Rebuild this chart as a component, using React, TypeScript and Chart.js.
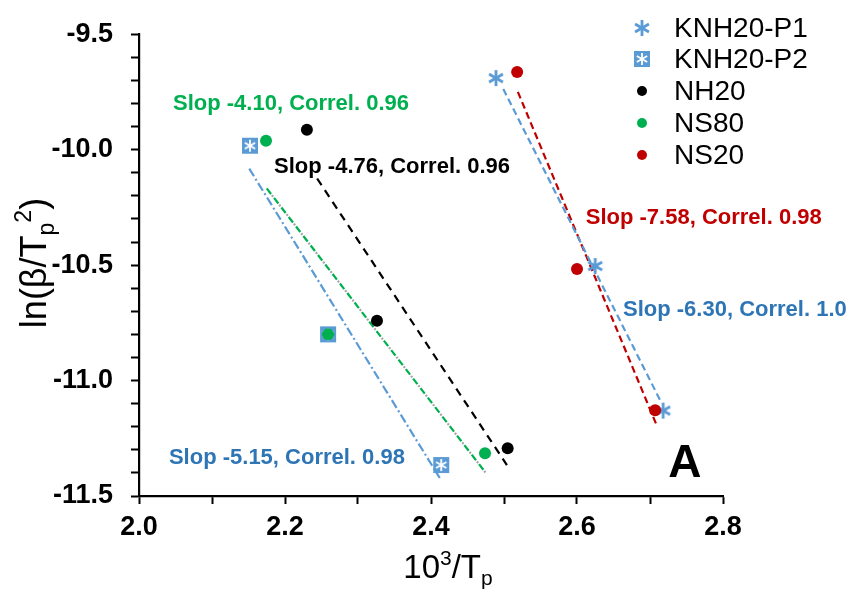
import React, { useEffect, useRef } from "react";
import { Chart, registerables } from "chart.js";
Chart.register(...registerables);

// ---- data ----
const seriesNames = ["KNH20-P1", "KNH20-P2", "NH20", "NS80", "NS20"];
const knh20p1X = [2.489, 2.625, 2.718];
const knh20p1Y = [-9.69, -10.504, -11.13];
const knh20p2X = [2.152, 2.259, 2.414];
const knh20p2Y = [-9.983, -10.8, -11.366];
const nh20X = [2.23, 2.326, 2.505];
const nh20Y = [-9.914, -10.741, -11.293];
const ns80X = [2.174, 2.259, 2.474];
const ns80Y = [-9.961, -10.8, -11.315];
const ns20X = [2.518, 2.6, 2.707];
const ns20Y = [-9.664, -10.517, -11.129];

// linear fit segments (endpoints)
const fitP1X = [2.499, 2.714];
const fitP1Y = [-9.737, -11.086];
const fitP2X = [2.151, 2.412];
const fitP2Y = [-10.082, -11.422];
const fitNH20X = [2.244, 2.504];
const fitNH20Y = [-10.125, -11.366];
const fitNS80X = [2.175, 2.475];
const fitNS80Y = [-10.168, -11.4];
const fitNS20X = [2.519, 2.71];
const fitNS20Y = [-9.75, -11.2];

const fitLabels = [
  "Slop -4.10, Correl. 0.96",
  "Slop -4.76, Correl. 0.96",
  "Slop -7.58, Correl. 0.98",
  "Slop -6.30, Correl. 1.0",
  "Slop -5.15, Correl. 0.98",
];
const panelLabel = "A";
const xTitleParts = ["10", "3", "/T", "p"];
const yTitleParts = ["ln(β/T", "p", "2", ")"];

const xMin = 2.0, xMax = 2.8, xStep = 0.1;
const yMin = -11.5, yMax = -9.5, yStep = 0.1;

const pts = (xs: number[], ys: number[]) => xs.map((x, i) => ({ x, y: ys[i] }));

const LIGHT_BLUE = "#5B9BD5";
const TEXT_BLUE = "#2E75B6";
const GREEN = "#00B050";
const RED = "#C00000";
const FONT = "'Liberation Sans', Arial, sans-serif";

function makeAsterisk(color: string) {
  const c = document.createElement("canvas");
  c.width = 20; c.height = 20;
  const g = c.getContext("2d")!;
  g.strokeStyle = color; g.lineWidth = 2.8; g.lineCap = "butt";
  const cx = 10, cy = 10, r = 8;
  for (let k = 0; k < 3; k++) {
    const a = Math.PI / 2 + (k * Math.PI) / 3;
    g.beginPath();
    g.moveTo(cx + r * Math.cos(a), cy + r * Math.sin(a));
    g.lineTo(cx - r * Math.cos(a), cy - r * Math.sin(a));
    g.stroke();
  }
  return c;
}

function makeBox(color: string) {
  const c = document.createElement("canvas");
  c.width = 18; c.height = 18;
  const g = c.getContext("2d")!;
  g.fillStyle = color;
  g.fillRect(1, 1, 16, 16);
  g.strokeStyle = "#ffffff"; g.lineWidth = 1.8;
  const cx = 9, cy = 9, r = 6;
  for (let k = 0; k < 3; k++) {
    const a = Math.PI / 2 + (k * Math.PI) / 3;
    g.beginPath();
    g.moveTo(cx + r * Math.cos(a), cy + r * Math.sin(a));
    g.lineTo(cx - r * Math.cos(a), cy - r * Math.sin(a));
    g.stroke();
  }
  return c;
}

export default function App() {
  const ref = useRef<HTMLCanvasElement>(null);

  useEffect(() => {
    const canvas = ref.current!;
    const aster = makeAsterisk(LIGHT_BLUE);
    const box = makeBox(LIGHT_BLUE);

    const annotations = [
      { text: fitLabels[0], color: GREEN, x: 2.0466, y: -9.8276 },
      { text: fitLabels[1], color: "#000000", x: 2.185, y: -10.103 },
      { text: fitLabels[2], color: RED, x: 2.612, y: -10.323 },
      { text: fitLabels[3], color: TEXT_BLUE, x: 2.663, y: -10.72 },
      { text: fitLabels[4], color: TEXT_BLUE, x: 2.041, y: -11.362 },
    ];

    const overlay = {
      id: "overlay",
      afterDraw(chart: any) {
        const ctx = chart.ctx as CanvasRenderingContext2D;
        const xs = chart.scales.x, ys = chart.scales.y;
        ctx.save();
        // fit annotations
        ctx.font = `bold 22px ${FONT}`;
        ctx.textAlign = "left";
        ctx.textBaseline = "alphabetic";
        annotations.forEach((a) => {
          ctx.fillStyle = a.color;
          ctx.fillText(a.text, xs.getPixelForValue(a.x), ys.getPixelForValue(a.y));
        });
        // panel letter
        ctx.fillStyle = "#000";
        ctx.font = `bold 46px ${FONT}`;
        ctx.fillText(panelLabel, xs.getPixelForValue(2.725), ys.getPixelForValue(-11.418));

        // legend
        const markers: any[] = [aster, box, "#000000", GREEN, RED];
        const rowY = [28, 59, 91, 123, 155];
        ctx.font = `28px ${FONT}`;
        ctx.textBaseline = "middle";
        seriesNames.forEach((n, i) => {
          const m = markers[i];
          const mx = 642, my = rowY[i];
          if (typeof m === "string") {
            ctx.fillStyle = m;
            ctx.beginPath();
            ctx.arc(mx, my, 5, 0, Math.PI * 2);
            ctx.fill();
          } else {
            ctx.drawImage(m, mx - m.width / 2, my - m.height / 2);
          }
          ctx.fillStyle = "#000";
          ctx.fillText(n, 674, my + 1);
        });

        // x title
        ctx.textBaseline = "alphabetic";
        const big = 33, small = 21;
        const fBig = `${big}px ${FONT}`, fSmall = `${small}px ${FONT}`;
        const xParts = [
          { t: xTitleParts[0], f: fBig, dy: 0 },
          { t: xTitleParts[1], f: fSmall, dy: -13 },
          { t: xTitleParts[2], f: fBig, dy: 0 },
          { t: xTitleParts[3], f: fSmall, dy: 7 },
        ];
        let total = 0;
        xParts.forEach((p) => { ctx.font = p.f; total += ctx.measureText(p.t).width; });
        let cx = 448 - total / 2;
        xParts.forEach((p) => {
          ctx.font = p.f;
          ctx.fillText(p.t, cx, 578 + p.dy);
          cx += ctx.measureText(p.t).width;
        });

        // y title
        const yb = 36, ys2 = 23;
        const yParts = [
          { t: yTitleParts[0], f: `${yb}px ${FONT}`, dy: 0 },
          { t: yTitleParts[1], f: `${ys2}px ${FONT}`, dy: 8 },
          { t: yTitleParts[2], f: `${ys2}px ${FONT}`, dy: -15 },
          { t: yTitleParts[3], f: `${yb}px ${FONT}`, dy: 0 },
        ];
        total = 0;
        yParts.forEach((p) => { ctx.font = p.f; total += ctx.measureText(p.t).width; });
        ctx.translate(46, 263);
        ctx.rotate(-Math.PI / 2);
        let cy = -total / 2;
        yParts.forEach((p) => {
          ctx.font = p.f;
          ctx.fillText(p.t, cy, p.dy);
          cy += ctx.measureText(p.t).width;
        });
        ctx.restore();
      },
    };

    const lineDs = (label: string, xsArr: number[], ysArr: number[], color: string, dash: number[], offset = 0) => ({
      label,
      data: pts(xsArr, ysArr),
      showLine: true,
      borderColor: color,
      borderWidth: 2.2,
      borderDash: dash,
      borderDashOffset: offset,
      pointRadius: 0,
      fill: false,
      order: 10,
    });

    const chart = new Chart(canvas, {
      type: "scatter",
      data: {
        datasets: [
          {
            label: seriesNames[0], data: pts(knh20p1X, knh20p1Y),
            pointStyle: aster as any, pointRadius: 10, order: 2,
          },
          {
            label: seriesNames[3], data: pts(ns80X, ns80Y),
            pointStyle: "circle", pointRadius: 6, backgroundColor: GREEN, borderWidth: 0, order: 1,
          },
          {
            label: seriesNames[1], data: pts(knh20p2X, knh20p2Y),
            pointStyle: box as any, pointRadius: 9, order: 5,
          },
          {
            label: seriesNames[2], data: pts(nh20X, nh20Y),
            pointStyle: "circle", pointRadius: 6, backgroundColor: "#000000", borderWidth: 0, order: 1,
          },
          {
            label: seriesNames[4], data: pts(ns20X, ns20Y),
            pointStyle: "circle", pointRadius: 6, backgroundColor: RED, borderWidth: 0, order: 1,
          },
          lineDs("fitP1", fitP1X, fitP1Y, LIGHT_BLUE, [7, 4]),
          lineDs("fitNS20", fitNS20X, fitNS20Y, RED, [7, 4]),
          lineDs("fitNH20", fitNH20X, fitNH20Y, "#000000", [8, 6]),
          lineDs("fitNS80g", fitNS80X, fitNS80Y, "#A6A6A6", [2, 10], 3.5),
          lineDs("fitNS80", fitNS80X, fitNS80Y, GREEN, [7, 5]),
          lineDs("fitP2", fitP2X, fitP2Y, LIGHT_BLUE, [9, 3, 2, 3]),
        ],
      },
      options: {
        responsive: false,
        animation: false,
        layout: { padding: { top: 32, right: 133, left: 0, bottom: 0 } },
        plugins: { legend: { display: false }, tooltip: { enabled: false }, title: { display: false } },
        scales: {
          x: {
            type: "linear",
            min: xMin, max: xMax,
            ticks: {
              stepSize: xStep,
              autoSkip: false,
              maxRotation: 0,
              padding: 7,
              color: "#000",
              font: { family: FONT, size: 27, weight: "bold" },
              callback: (v: any) => (Math.round(Number(v) * 10) % 2 === 0 ? Number(v).toFixed(1) : ""),
            },
            grid: { drawOnChartArea: false, drawTicks: true, tickLength: 8, tickColor: "#000", tickWidth: 2, color: "#000" },
            border: { display: true, color: "#000", width: 2.2 },
            afterFit: (s: any) => { s.height = 96; },
          },
          y: {
            type: "linear",
            min: yMin, max: yMax,
            ticks: {
              stepSize: yStep,
              autoSkip: false,
              padding: 18,
              color: "#000",
              font: { family: FONT, size: 27, weight: "bold" },
              callback: (v: any) => (Math.round(Number(v) * 10) % 5 === 0 ? Number(v).toFixed(1) : ""),
            },
            grid: { drawOnChartArea: false, drawTicks: true, tickLength: 8, tickColor: "#000", tickWidth: 2, color: "#000" },
            border: { display: true, color: "#000", width: 2.2 },
            afterFit: (s: any) => { s.width = 139; },
          },
        },
      },
      plugins: [overlay],
    } as any);

    return () => chart.destroy();
  }, []);

  return (
    <div style={{ position: "fixed", left: 0, top: 0, width: 856, height: 592, background: "#fff" }}>
      <canvas ref={ref} width={856} height={592} style={{ display: "block" }} />
    </div>
  );
}
